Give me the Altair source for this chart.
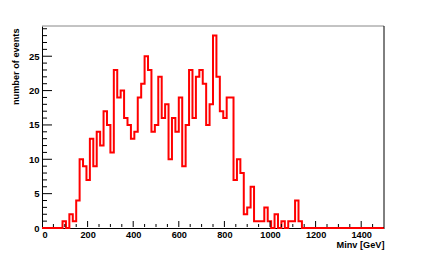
import altair as alt
import pandas as pd

# Histogram: 100 bins of 15 GeV from 0 to 1500
bin_width = 15
counts = [0, 0, 0, 0, 0, 0, 1, 0, 2, 1,
          4, 10, 9, 7, 13, 9, 14, 12, 17, 15,
          11, 23, 19, 20, 16, 15, 13, 14, 19, 21,
          25, 23, 14, 15, 22, 16, 18, 10, 16, 14,
          19, 9, 15, 23, 16, 22, 23, 21, 15, 18,
          28, 22, 17, 16, 19, 19, 7, 10, 8, 2,
          3, 6, 1, 1, 1, 3, 1, 0, 2, 0,
          1, 0, 1, 1, 4, 1, 0, 0, 0, 0,
          0, 0, 0, 0, 0, 0, 0, 0, 0, 0,
          0, 0, 0, 0, 0, 0, 0, 0, 0, 0]
x_labels = [0, 200, 400, 600, 800, 1000, 1200, 1400]
x_minor = [v for v in range(50, 1500, 50) if v % 200 != 0]
y_labels = [0, 5, 10, 15, 20, 25]
y_minor = [v for v in range(1, 30) if v % 5 != 0]

edges = [i * bin_width for i in range(len(counts))] + [len(counts) * bin_width]
vals = counts + [counts[-1]]
hist = pd.DataFrame({"x": edges, "n": vals})

W, H = 342, 202
FONT = "Liberation Sans"
xs = alt.Scale(domain=[0, 1500], nice=False, zero=False)
ys = alt.Scale(domain=[0, 29.4], nice=False, zero=True)

x_axis = alt.Axis(
    values=x_labels, format="d", tickSize=0, labelPadding=2, grid=False, domainColor="black",
    labelFont=FONT, labelFontWeight="bold", labelFontSize=9.2, labelColor="black",
    title="Minv [GeV]", titleFont=FONT, titleFontWeight="bold", titleFontSize=9.2,
    titleColor="black", titleAlign="right", titleAnchor="end", titleX=W, titleY=16.2,
    titleBaseline="middle")
y_axis = alt.Axis(
    values=y_labels, format="d", tickSize=0, labelPadding=3, grid=False, domainColor="black",
    labelFont=FONT, labelFontWeight="bold", labelFontSize=9.5, labelColor="black",
    title="number of events", titleFont=FONT, titleFontWeight="bold", titleFontSize=9.2,
    titleColor="black", titleAngle=270, titleAlign="right", titleBaseline="middle",
    titleX=-27, titleY=2)

line = alt.Chart(hist).mark_line(interpolate="step-after", color="#ff0000", strokeWidth=2).encode(
    x=alt.X("x:Q", scale=xs, axis=x_axis),
    y=alt.Y("n:Q", scale=ys, axis=y_axis),
)

ymaj = alt.Chart(pd.DataFrame({"n": y_labels[1:]})).mark_rule(color="black", strokeWidth=1).encode(
    y=alt.Y("n:Q", scale=ys, axis=y_axis), x=alt.value(0), x2=alt.value(10))
ymin = alt.Chart(pd.DataFrame({"n": y_minor})).mark_rule(color="black", strokeWidth=1).encode(
    y=alt.Y("n:Q", scale=ys, axis=y_axis), x=alt.value(0), x2=alt.value(5))
xmaj = alt.Chart(pd.DataFrame({"x": x_labels[1:]})).mark_rule(color="black", strokeWidth=1).encode(
    x=alt.X("x:Q", scale=xs, axis=x_axis), y=alt.value(H - 1), y2=alt.value(H - 7))
xmin = alt.Chart(pd.DataFrame({"x": x_minor})).mark_rule(color="black", strokeWidth=1).encode(
    x=alt.X("x:Q", scale=xs, axis=x_axis), y=alt.value(H - 1), y2=alt.value(H - 4))

one = pd.DataFrame({"k": [0]})
top = alt.Chart(one).mark_rule(color="#888888", strokeWidth=1).encode(
    x=alt.value(0), x2=alt.value(W), y=alt.value(0))
right = alt.Chart(one).mark_rule(color="black", strokeWidth=1).encode(
    x=alt.value(W), y=alt.value(0), y2=alt.value(H))

chart = alt.layer(line, ymin, ymaj, xmin, xmaj, top, right).properties(
    width=W, height=H,
    autosize=alt.AutoSizeParams(type="none"),
    padding={"left": 34, "top": 18, "right": 35, "bottom": 22},
    background="white",
).configure_view(stroke=None)

chart.save("out.html", embed_options={"renderer": "svg", "actions": False})
